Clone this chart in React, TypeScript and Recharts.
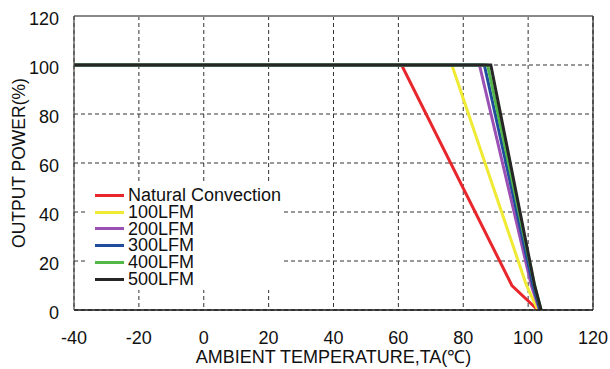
import React from 'react';
import { LineChart, Line, XAxis, YAxis, CartesianGrid, ReferenceLine, Legend } from 'recharts';

const FONT = '"Liberation Sans", Arial, Helvetica, sans-serif';

const seriesNames = ['Natural Convection', '100LFM', '200LFM', '300LFM', '400LFM', '500LFM'];
const seriesColors = ['#e8262c', '#f0ea35', '#9b50b3', '#1f4c9c', '#52b848', '#262626'];

const ncTemp = [-40, 61, 95, 103];
const ncPower = [100, 100, 10, 0];
const lfm100Temp = [-40, 76.5, 99.5, 103];
const lfm100Power = [100, 100, 10, 0];
const lfm200Temp = [-40, 85, 101, 103.5];
const lfm200Power = [100, 100, 10, 0];
const lfm300Temp = [-40, 86.5, 101.5, 103.7];
const lfm300Power = [100, 100, 10, 0];
const lfm400Temp = [-40, 87.5, 102, 104];
const lfm400Power = [100, 100, 10, 0];
const lfm500Temp = [-40, 88.5, 102, 104];
const lfm500Power = [100, 100, 10, 0];

const xTicks = [-40, -20, 0, 20, 40, 60, 80, 100, 120];
const yTicks = [0, 20, 40, 60, 80, 100, 120];

const xTitle = 'AMBIENT TEMPERATURE,TA(℃)';
const yTitle = 'OUTPUT POWER(%)';

const temps = [ncTemp, lfm100Temp, lfm200Temp, lfm300Temp, lfm400Temp, lfm500Temp];
const powers = [ncPower, lfm100Power, lfm200Power, lfm300Power, lfm400Power, lfm500Power];

const series = seriesNames.map((name, i) => ({
  name,
  color: seriesColors[i],
  data: temps[i].map((t, j) => ({ t, p: powers[i][j] })),
}));

const YTick = (props: any) => (
  <text x={props.x - 15} y={props.y + 9} textAnchor="end" fontSize={18} fontFamily={FONT} fill="#111">
    {props.payload.value}
  </text>
);

const XTick = (props: any) => (
  <text x={props.x} y={props.y + 34} textAnchor="middle" fontSize={18} fontFamily={FONT} fill="#111">
    {props.payload.value}
  </text>
);

const LegendBox = () => (
  <div
    style={{
      background: '#fff',
      width: 197,
      height: 106,
      paddingTop: 3,
      boxSizing: 'border-box',
      fontFamily: FONT,
      fontSize: 18,
      color: '#111',
    }}
  >
    {series.map((s) => (
      <div key={s.name} style={{ height: 16.8, display: 'flex', alignItems: 'center', whiteSpace: 'nowrap' }}>
        <div style={{ marginLeft: 9, width: 29, height: 3, background: s.color }} />
        <div style={{ marginLeft: 4, height: 16.8, lineHeight: '16.8px', overflow: 'visible' }}>{s.name}</div>
      </div>
    ))}
  </div>
);

export default function App() {
  return (
    <div style={{ position: 'absolute', left: 0, top: 0, width: 610, height: 369, background: '#fff' }}>
      <LineChart width={610} height={369} margin={{ top: 16, right: 17, left: 0, bottom: 0 }}>
        <CartesianGrid stroke="#333" strokeDasharray="4 3" strokeWidth={1} />
        <XAxis
          dataKey="t"
          type="number"
          domain={[-40, 120]}
          ticks={xTicks}
          height={59}
          tickLine={false}
          tickSize={0}
          tickMargin={0}
          tick={<XTick />}
          axisLine={{ stroke: '#111', strokeWidth: 1.5 }}
          allowDataOverflow
        />
        <YAxis
          type="number"
          domain={[0, 120]}
          ticks={yTicks}
          width={74}
          tickLine={false}
          tickSize={0}
          tickMargin={0}
          tick={<YTick />}
          axisLine={{ stroke: '#444', strokeWidth: 1.2 }}
          allowDataOverflow
        />
        <ReferenceLine y={120} stroke="#888" strokeWidth={2} />
        <ReferenceLine x={120} stroke="#222" strokeWidth={1.2} />
        <Legend
          layout="vertical"
          align="center"
          verticalAlign="middle"
          content={<LegendBox />}
          wrapperStyle={{ left: 86, top: 184, width: 197, height: 106 }}
        />
        {series.map((s) => (
          <Line
            key={s.name}
            name={s.name}
            data={s.data}
            dataKey="p"
            type="linear"
            stroke={s.color}
            strokeWidth={3}
            dot={false}
            activeDot={false}
            isAnimationActive={false}
          />
        ))}
      </LineChart>
      <div
        style={{
          position: 'absolute',
          left: 74,
          top: 347,
          width: 519,
          textAlign: 'center',
          fontFamily: FONT,
          fontSize: 18,
          lineHeight: '20px',
          color: '#111',
          whiteSpace: 'nowrap',
        }}
      >
        {xTitle}
      </div>
      <div
        style={{
          position: 'absolute',
          left: 19 - 147,
          top: 163 - 10,
          width: 294,
          height: 20,
          textAlign: 'center',
          fontFamily: FONT,
          fontSize: 17.5,
          lineHeight: '20px',
          color: '#111',
          whiteSpace: 'nowrap',
          transform: 'rotate(-90deg)',
        }}
      >
        {yTitle}
      </div>
    </div>
  );
}
